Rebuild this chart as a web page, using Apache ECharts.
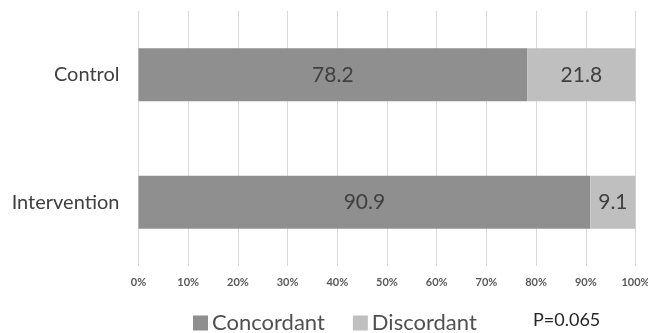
<!DOCTYPE html>
<html lang="en">
<head>
    <meta charset="UTF-8">
    <title>Concordance</title>
    <script src="https://cdn.jsdelivr.net/npm/echarts@6/dist/echarts.min.js"></script>
    <style>
        body { margin: 0; background: #fff; }
    </style>
</head>
<body>
<div id="main" style="width: 648px;height:333px;"></div>
<script>
    var groups = ['Control', 'Intervention'];
    var concordant = [78.2, 90.9];
    var discordant = [21.8, 9.1];
    var pText = 'P=0.065';

    var myChart = echarts.init(document.getElementById('main'));
    var option = {
        animation: false,
        textStyle: { fontFamily: 'Lato' },
        title: {
            text: pText,
            left: 528,
            top: 311,
            padding: [0, 5],
            textStyle: { fontSize: 18, fontWeight: 'normal', color: '#262626', fontFamily: 'Lato' }
        },
        legend: {
            data: ['Concordant', 'Discordant'],
            left: 188,
            top: 307,
            icon: 'rect',
            itemWidth: 15,
            itemHeight: 15,
            itemGap: 28,
            textStyle: { fontSize: 22, color: '#505050', padding: [0, 0, 0, -1] }
        },
        grid: {
            left: 138.5,
            right: 12.5,
            top: 11,
            bottom: 67,
            outerBoundsMode: 'none',
            containLabel: false
        },
        xAxis: {
            type: 'value',
            min: 0,
            max: 100,
            interval: 10,
            axisLine: { show: false },
            axisTick: { show: false },
            splitLine: { lineStyle: { color: '#d9d9d9', width: 1 } },
            axisLabel: {
                formatter: '{value}%',
                fontSize: 11,
                fontWeight: 'bold',
                color: '#595959',
                margin: 11
            }
        },
        yAxis: {
            type: 'category',
            inverse: true,
            data: groups,
            axisLine: { show: false },
            axisTick: { show: false },
            axisLabel: { fontSize: 20, color: '#404040', margin: 19 }
        },
        series: [
            {
                name: 'Concordant',
                type: 'bar',
                stack: 'total',
                barWidth: 53,
                itemStyle: { color: '#8f8f8f' },
                label: { show: true, position: 'inside', fontSize: 21, color: '#404040' },
                data: concordant
            },
            {
                name: 'Discordant',
                type: 'bar',
                stack: 'total',
                barWidth: 53,
                itemStyle: { color: '#bfbfbf' },
                label: { show: true, position: 'inside', fontSize: 21, color: '#404040' },
                data: discordant
            }
        ]
    };
    myChart.setOption(option);
</script>
</body>
</html>
